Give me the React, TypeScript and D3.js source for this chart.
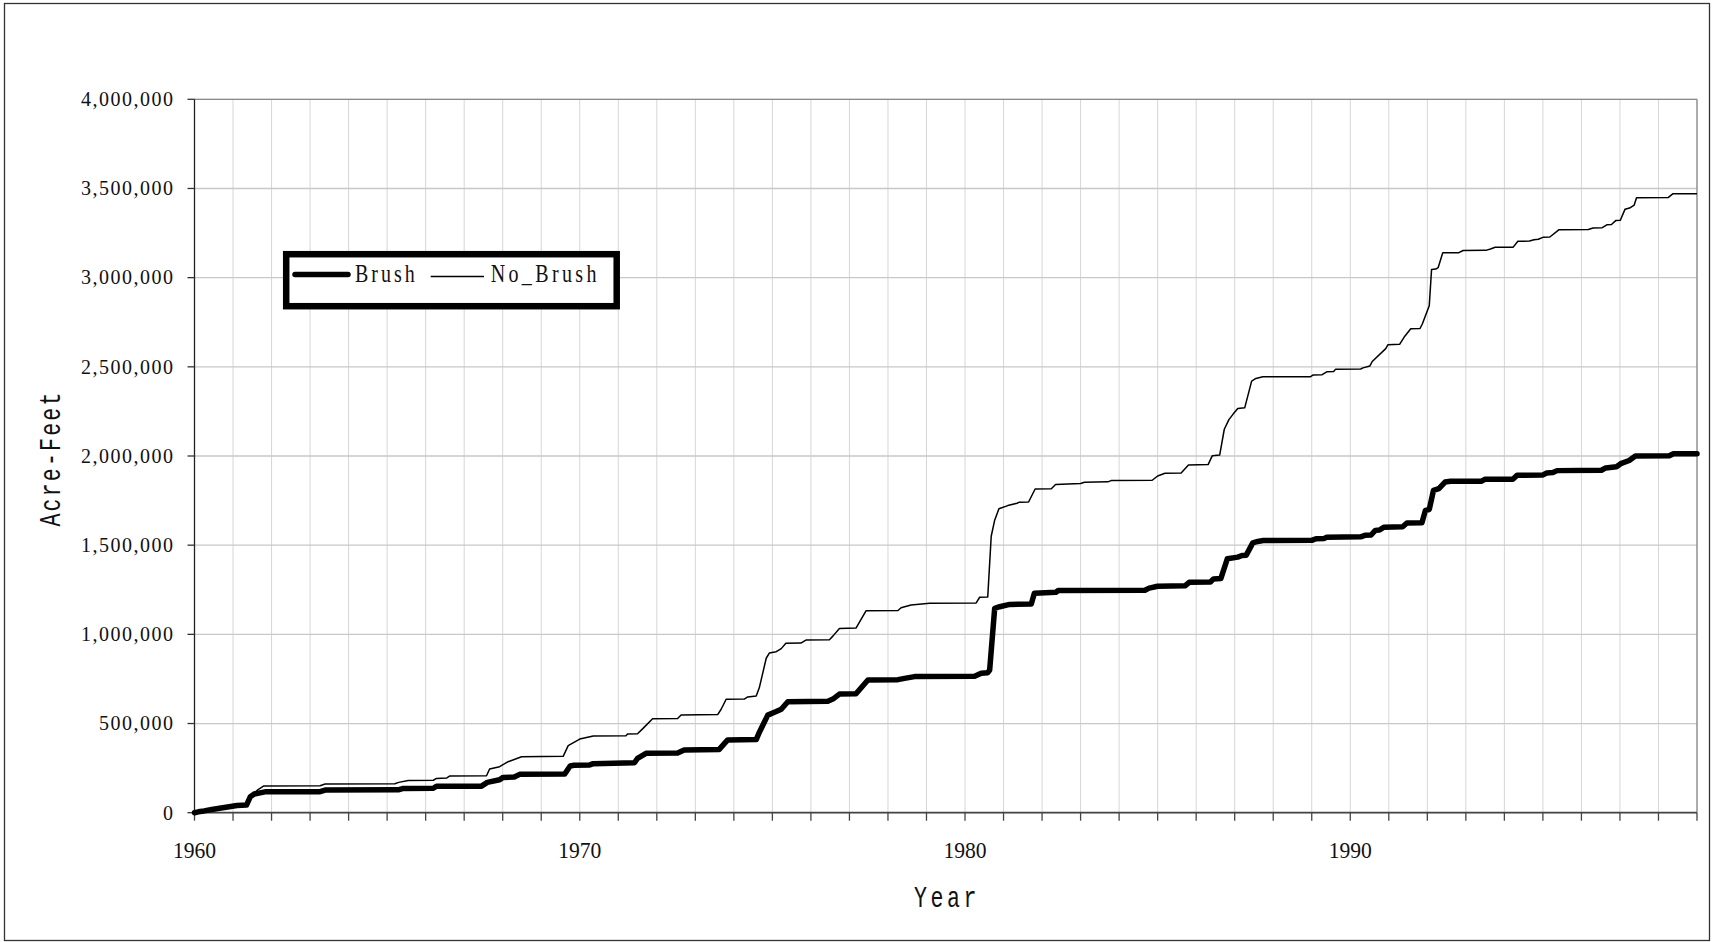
import React from "react";
import * as d3 from "d3";

// ---- data (cumulative acre-feet) ----
const brushYears = [
  1960.0, 1960.1, 1960.25, 1960.45, 1960.65, 1960.9, 1961.1, 1961.35, 1961.45, 1961.55, 1961.83,
  1963.26, 1963.39, 1965.29, 1965.42, 1966.2, 1966.28, 1967.45, 1967.6, 1967.92, 1968.01, 1968.3,
  1968.44, 1969.61, 1969.75, 1969.85, 1970.26, 1970.35, 1971.42, 1971.5, 1971.72, 1972.54, 1972.71,
  1973.62, 1973.84, 1974.58, 1974.66, 1974.88, 1975.1, 1975.23, 1975.4, 1976.44, 1976.57, 1976.74,
  1977.17, 1977.48, 1978.26, 1978.43, 1978.69, 1980.25, 1980.42, 1980.59, 1980.64, 1980.77, 1980.9,
  1981.16, 1981.72, 1981.8, 1982.36, 1982.42, 1984.67, 1984.78, 1985.0, 1985.71, 1985.82, 1986.37,
  1986.45, 1986.64, 1986.81, 1987.08, 1987.19, 1987.3, 1987.47, 1987.6, 1987.74, 1989.0, 1989.11,
  1989.33, 1989.39, 1990.27, 1990.38, 1990.54, 1990.65, 1990.76, 1990.87, 1991.36, 1991.47, 1991.86,
  1991.95, 1992.05, 1992.16, 1992.3, 1992.46, 1992.6, 1993.4, 1993.5, 1994.22, 1994.33, 1994.99,
  1995.1, 1995.26, 1995.37, 1996.52, 1996.63, 1996.91, 1997.02, 1997.24, 1997.4, 1998.28, 1998.39,
  1999.0,
];
const brushValues = [
  0, 5000, 10000, 18000, 25000, 33000, 40000, 43000, 90000, 105000, 117000,
  118000, 127000, 128000, 136000, 137000, 148000, 149000, 170000, 185000, 198000, 200000,
  215000, 217000, 262000, 266000, 268000, 275000, 280000, 305000, 333000, 335000, 352000,
  355000, 408000, 410000, 450000, 547000, 567000, 580000, 622000, 625000, 637000, 665000,
  667000, 744000, 746000, 753000, 763000, 765000, 782000, 785000, 800000, 1146000, 1155000,
  1168000, 1170000, 1230000, 1236000, 1246000, 1247000, 1259000, 1270000, 1272000, 1292000, 1294000,
  1311000, 1313000, 1424000, 1433000, 1442000, 1444000, 1513000, 1521000, 1526000, 1527000, 1536000,
  1538000, 1545000, 1547000, 1555000, 1557000, 1583000, 1585000, 1601000, 1603000, 1624000, 1626000,
  1695000, 1700000, 1807000, 1817000, 1854000, 1858000, 1859000, 1869000, 1870000, 1892000, 1893000,
  1905000, 1907000, 1918000, 1920000, 1933000, 1940000, 1957000, 1975000, 2000000, 2001000, 2013000,
  2013000,
];

const noBrushYears = [
  1960.0, 1960.1, 1960.25, 1960.45, 1960.65, 1960.9, 1961.1, 1961.35, 1961.5, 1961.65, 1961.8,
  1963.26, 1963.39, 1965.2, 1965.3, 1965.55, 1966.2, 1966.28, 1966.55, 1966.63, 1967.58, 1967.66,
  1967.92, 1968.14, 1968.49, 1969.57, 1969.7, 1970.0, 1970.35, 1971.2, 1971.24, 1971.5, 1971.63,
  1971.89, 1972.54, 1972.63, 1973.58, 1973.67, 1973.8, 1974.27, 1974.36, 1974.58, 1974.66, 1974.84,
  1974.92, 1975.1, 1975.23, 1975.35, 1975.74, 1975.87, 1976.48, 1976.57, 1976.74, 1977.17, 1977.43,
  1978.26, 1978.34, 1978.6, 1979.08, 1980.29, 1980.38, 1980.59, 1980.68, 1980.77, 1980.88, 1981.11,
  1981.35, 1981.41, 1981.65, 1981.82, 1982.24, 1982.35, 1983.0, 1983.1, 1983.71, 1983.79, 1984.86,
  1985.0, 1985.19, 1985.61, 1985.8, 1986.31, 1986.42, 1986.61, 1986.73, 1986.85, 1986.96, 1987.08,
  1987.26, 1987.44, 1987.55, 1987.73, 1988.97, 1989.03, 1989.27, 1989.39, 1989.57, 1989.62, 1990.27,
  1990.33, 1990.51, 1990.57, 1990.92, 1990.98, 1991.28, 1991.4, 1991.57, 1991.81, 1991.87, 1992.05,
  1992.11, 1992.22, 1992.28, 1992.4, 1992.82, 1992.93, 1993.52, 1993.64, 1993.76, 1994.23, 1994.35,
  1994.65, 1994.77, 1994.88, 1995.0, 1995.18, 1995.42, 1996.18, 1996.3, 1996.54, 1996.66, 1996.78,
  1996.89, 1997.01, 1997.13, 1997.25, 1997.37, 1997.43, 1998.25, 1998.37, 1999.0,
];
const noBrushValues = [
  0, 5000, 10000, 18000, 25000, 33000, 40000, 43000, 100000, 130000, 150000,
  151000, 161000, 162000, 170000, 181000, 182000, 192000, 195000, 206000, 207000, 245000,
  258000, 286000, 314000, 316000, 376000, 413000, 430000, 432000, 441000, 443000, 470000,
  527000, 528000, 548000, 550000, 580000, 636000, 637000, 649000, 654000, 700000, 866000,
  895000, 903000, 920000, 950000, 951000, 968000, 970000, 990000, 1033000, 1035000, 1132000,
  1134000, 1149000, 1165000, 1174000, 1176000, 1208000, 1210000, 1550000, 1640000, 1704000, 1722000,
  1735000, 1741000, 1742000, 1815000, 1816000, 1840000, 1846000, 1853000, 1855000, 1862000, 1864000,
  1888000, 1903000, 1905000, 1950000, 1952000, 2002000, 2005000, 2150000, 2204000, 2235000, 2266000,
  2270000, 2420000, 2435000, 2444000, 2445000, 2454000, 2456000, 2472000, 2474000, 2487000, 2488000,
  2494000, 2505000, 2530000, 2602000, 2624000, 2626000, 2667000, 2713000, 2715000, 2740000, 2842000,
  3046000, 3048000, 3056000, 3139000, 3140000, 3152000, 3153000, 3161000, 3170000, 3171000, 3204000,
  3205000, 3213000, 3215000, 3226000, 3228000, 3269000, 3270000, 3278000, 3280000, 3296000, 3298000,
  3320000, 3322000, 3383000, 3390000, 3407000, 3448000, 3449000, 3470000, 3470000,
];

const yTicks = [0, 500000, 1000000, 1500000, 2000000, 2500000, 3000000, 3500000, 4000000];
const xLabelYears = [1960, 1970, 1980, 1990];
const yearDomain = [1960, 1999];
const seriesNames = ["Brush", "No_Brush"];
const xTitle = "Year";
const yTitle = "Acre-Feet";

const W = 1713;
const H = 942;
const L = 194.5, R = 1697, T = 99.3, B = 812.7;

export default function App() {
  const x = d3.scaleLinear().domain(yearDomain).range([L, R]);
  const y = d3.scaleLinear().domain([0, 4000000]).range([B, T]);
  const line = d3
    .line<[number, number]>()
    .x((d) => x(d[0]))
    .y((d) => y(d[1]))
    .curve(d3.curveLinear);
  const brush = brushYears.map((yr, i) => [yr, brushValues[i]] as [number, number]);
  const noBrush = noBrushYears.map((yr, i) => [yr, noBrushValues[i]] as [number, number]);
  const years = d3.range(yearDomain[0], yearDomain[1] + 1);
  const fmt = d3.format(",");
  const serif = "'Liberation Serif', 'Times New Roman', serif";
  const mono = "'Liberation Mono', 'Courier New', monospace";

  return (
    <svg
      width={W}
      height={H}
      style={{ position: "absolute", left: 0, top: 0, display: "block", background: "#fff" }}
    >
      <rect x={0} y={0} width={W} height={H} fill="#fff" />
      <rect x={4.5} y={3.5} width={1705} height={937} fill="none" stroke="#333" strokeWidth={1.3} />

      {/* vertical gridlines */}
      {years.map((yr) => (
        <line key={"vg" + yr} x1={x(yr)} x2={x(yr)} y1={T} y2={B} stroke="#d6d6d6" strokeWidth={1} />
      ))}
      {/* horizontal gridlines */}
      {yTicks.map((v) => (
        <line key={"hg" + v} x1={L} x2={R} y1={y(v)} y2={y(v)} stroke="#c8c8c8" strokeWidth={1.3} />
      ))}
      {/* plot frame top/right */}
      <line x1={L} x2={R} y1={T} y2={T} stroke="#8a8a8a" strokeWidth={1.3} />
      <line x1={R} x2={R} y1={T} y2={B} stroke="#8a8a8a" strokeWidth={1.3} />
      {/* axes */}
      <line x1={L} x2={L} y1={T} y2={B} stroke="#222" strokeWidth={1.3} />
      <line x1={L} x2={R} y1={B} y2={B} stroke="#444" strokeWidth={1.8} />

      {/* y ticks + labels */}
      {yTicks.map((v) => (
        <g key={"yt" + v}>
          <line x1={L - 7} x2={L} y1={y(v)} y2={y(v)} stroke="#333" strokeWidth={1.3} />
          <text
            x={174.5}
            y={y(v) + 6.8}
            textAnchor="end"
            fontFamily={serif}
            fontSize={20}
            letterSpacing={1.5}
            fill="#111"
          >
            {fmt(v)}
          </text>
        </g>
      ))}

      {/* x ticks */}
      {years.map((yr) => (
        <line key={"xt" + yr} x1={x(yr)} x2={x(yr)} y1={B} y2={B + 8} stroke="#444" strokeWidth={1.3} />
      ))}
      {xLabelYears.map((yr) => (
        <text
          key={"xl" + yr}
          transform={`translate(${x(yr)},858) scale(0.9,1)`}
          textAnchor="middle"
          fontFamily={serif}
          fontSize={24}
          fill="#111"
        >
          {yr}
        </text>
      ))}

      {/* series */}
      <path d={line(brush) || ""} fill="none" stroke="#000" strokeWidth={5.5} strokeLinejoin="round" strokeLinecap="round" />
      <path d={line(noBrush) || ""} fill="none" stroke="#000" strokeWidth={1.5} strokeLinejoin="round" />

      {/* axis titles */}
      <text
        transform={`translate(947,906.5) scale(0.72,1)`}
        textAnchor="middle"
        fontFamily={mono}
        fontSize={30}
        letterSpacing={5}
        fill="#111"
      >
        {xTitle}
      </text>
      <text
        transform={`translate(60,458.5) rotate(-90) scale(0.72,1)`}
        textAnchor="middle"
        fontFamily={mono}
        fontSize={30}
        letterSpacing={3}
        fill="#111"
      >
        {yTitle}
      </text>

      {/* legend */}
      <rect x={286.2} y={254.2} width={330.5} height={52} fill="#fff" stroke="#000" strokeWidth={6.5} />
      <line x1={295} x2={348} y1={274.5} y2={274.5} stroke="#000" strokeWidth={5.5} strokeLinecap="round" />
      <text
        transform="translate(355,281.7) scale(0.8,1)"
        fontFamily={serif}
        fontSize={25}
        letterSpacing={3.75}
        fill="#111"
      >
        {seriesNames[0]}
      </text>
      <line x1={430.7} x2={484} y1={276.5} y2={276.5} stroke="#000" strokeWidth={1.5} />
      <text
        transform="translate(490.7,281.7) scale(0.8,1)"
        fontFamily={serif}
        fontSize={25}
        letterSpacing={4.2}
        fill="#111"
      >
        {seriesNames[1]}
      </text>
    </svg>
  );
}
